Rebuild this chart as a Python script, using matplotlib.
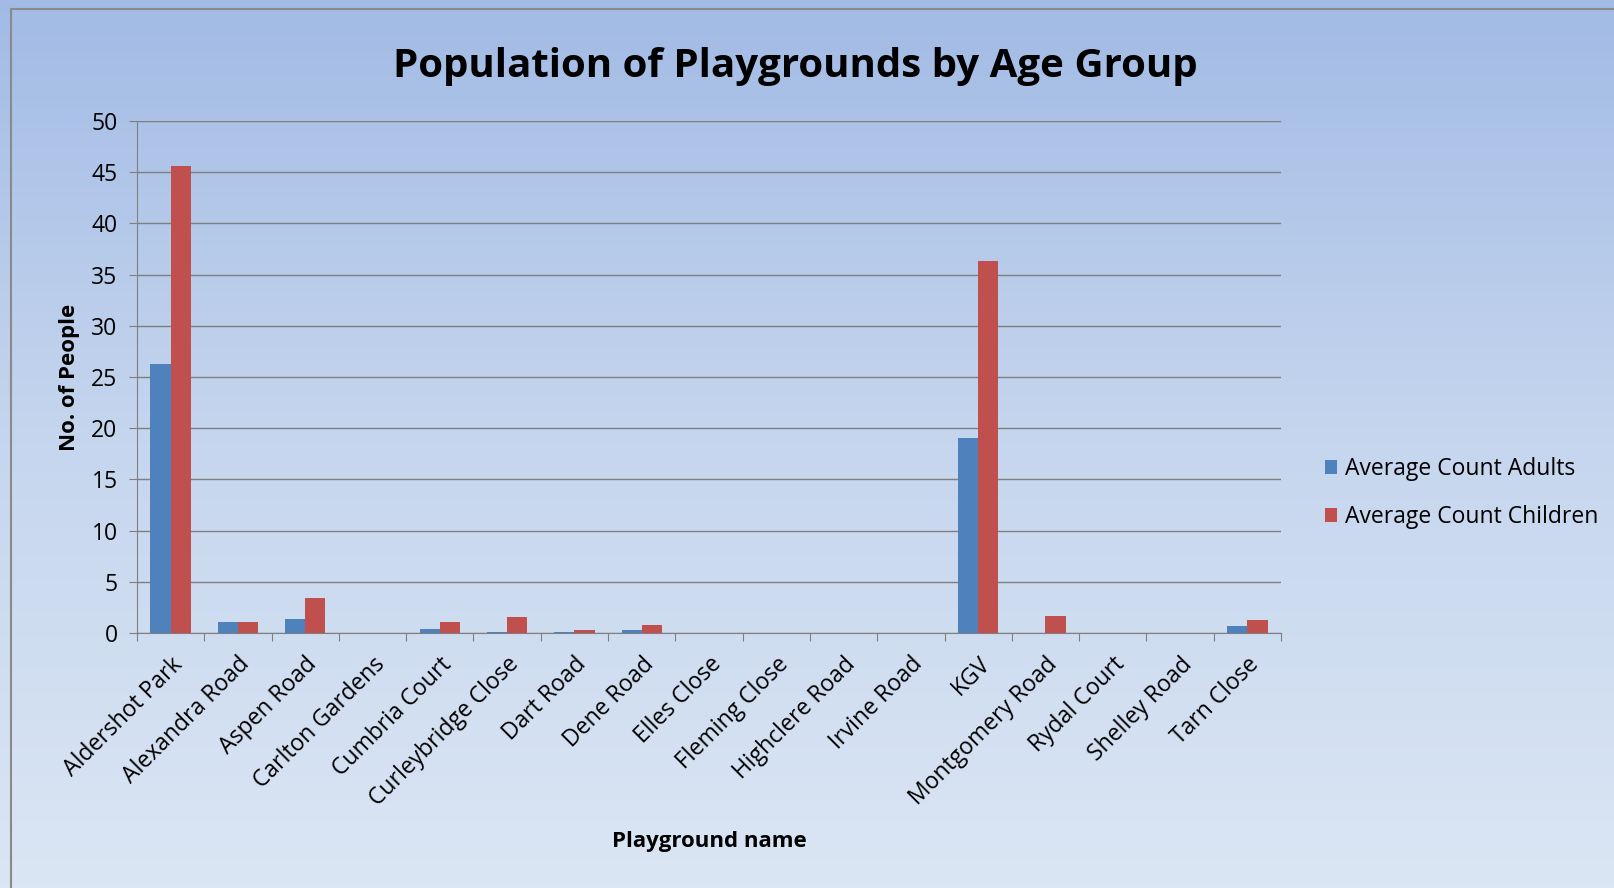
import matplotlib.pyplot as plt
import numpy as np
from matplotlib.colors import LinearSegmentedColormap

# playground names and average counts
playgrounds = ["Aldershot Park", "Alexandra Road", "Aspen Road", "Carlton Gardens",
               "Cumbria Court", "Curleybridge Close", "Dart Road", "Dene Road",
               "Elles Close", "Fleming Close", "Highclere Road", "Irvine Road",
               "KGV", "Montgomery Road", "Rydal Court", "Shelley Road", "Tarn Close"]
adults = [26.3, 1.05, 1.4, 0, 0.35, 0.1, 0.1, 0.27, 0, 0, 0, 0, 19.0, 0, 0, 0, 0.65]
children = [45.6, 1.1, 3.4, 0, 1.1, 1.55, 0.25, 0.75, 0, 0, 0, 0, 36.3, 1.65, 0, 0, 1.3]

plt.rcParams['font.family'] = ['Open Sans', 'DejaVu Sans']

fig = plt.figure(figsize=(16.14, 8.88), dpi=100)

# background gradient over the whole figure
bg = fig.add_axes([0, 0, 1, 1], zorder=-10)
grad = np.linspace(0, 1, 256).reshape(-1, 1)
cmap = LinearSegmentedColormap.from_list("bg", ["#a2bbe5", "#c6d6ee", "#dbe6f4"])
bg.imshow(grad, aspect='auto', cmap=cmap, extent=[0, 1, 0, 1], origin='upper')
bg.plot([0.007, 0.007, 1], [0, 0.99, 0.99], color='#8a8a8a', lw=1.5)
bg.set_xlim(0, 1)
bg.set_ylim(0, 1)
bg.axis('off')

ax = fig.add_axes([137 / 1614, 1 - 633 / 888, (1281 - 137) / 1614, (633 - 121) / 888])
ax.patch.set_alpha(0)

x = np.arange(len(playgrounds))
w = 0.3
ax.bar(x - w / 2, adults, w, color='#4f81bd', label='Average Count Adults', zorder=3)
ax.bar(x + w / 2, children, w, color='#c0504d', label='Average Count Children', zorder=3)

ax.set_xlim(-0.5, len(playgrounds) - 0.5)
ax.set_ylim(0, 50)
ax.set_yticks(range(0, 51, 5))
ax.yaxis.grid(True, color='#7f7f7f', lw=1)
ax.set_axisbelow(True)
for s in ['top', 'right']:
    ax.spines[s].set_visible(False)
ax.spines['left'].set_color('#7f7f7f')
ax.spines['bottom'].set_color('#7f7f7f')

ax.set_xticks(np.arange(-0.5, len(playgrounds), 1), minor=False)
ax.set_xticklabels([])
ax.set_xticks(x, minor=True)
ax.set_xticklabels(playgrounds, minor=True, rotation=45, ha='right', rotation_mode='anchor',
                   fontsize=16.5)
ax.tick_params(axis='x', which='minor', length=0, pad=14)
ax.tick_params(axis='x', which='major', length=6, color='#7f7f7f')
ax.tick_params(axis='y', labelsize=16.5, length=6, color='#7f7f7f', pad=8)

ax.set_ylabel('No. of People', fontsize=16, fontweight='bold', labelpad=8)
ax.set_xlabel('Playground name', fontsize=16, fontweight='bold', labelpad=14)

fig.text(0.493, 0.925, 'Population of Playgrounds by Age Group', ha='center', va='center',
         fontsize=29, fontweight='bold')

ax.legend(loc='center left', bbox_to_anchor=(1.02, 0.273), frameon=False, fontsize=16.5,
          handlelength=0.55, handleheight=0.55, handletextpad=0.35, labelspacing=1.05)

fig.savefig('out.png', dpi=100)
